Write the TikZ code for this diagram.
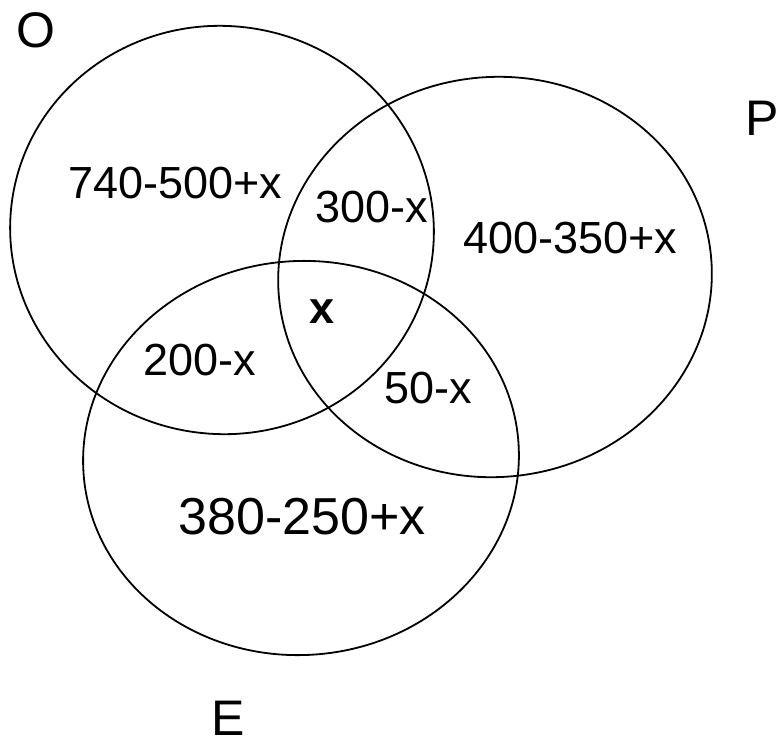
\documentclass[tikz,border=0pt]{standalone}
\usepackage{fontspec}
\setmainfont{Liberation Sans}
\usepackage{tikz}
\usetikzlibrary{positioning}

\begin{document}
\begin{tikzpicture}[x=1pt, y=-1pt,
    ring/.style={draw=black, line width=1.8pt},
    setname/.style={font=\fontsize{50}{56}\selectfont},
    region/.style={font=\fontsize{45}{50}\selectfont}]

    \useasboundingbox (0,0) rectangle (783,755);

    % The three sets
    \draw[ring, rotate around={-8:(222,230)}] (222,230) ellipse [x radius=212, y radius=204];
    \draw[ring, rotate around={6:(495,277)}] (495,277) ellipse [x radius=217, y radius=200];
    \draw[ring, rotate around={4:(301,458)}] (301,458) ellipse [x radius=218, y radius=197];

    % Set names
    \node[setname] (nameO) at (36,30) {O};
    \node[setname] (nameP) at (762,118) {P};
    \node[setname] (nameE) at (228,718) {E};

    % Region counts
    \node[region] (onlyO) at (175,183) {740-500+x};
    \node[region] (OP) at (372,207) {300-x};
    \node[region] (onlyP) at (570,238) {400-350+x};
    \node[region, font=\fontsize{45}{50}\selectfont\bfseries] (OPE) at (322,312) {x};
    \node[region] (OE) at (200,360) {200-x};
    \node[region] (PE) at (428,388) {50-x};
    \node[region, font=\fontsize{52}{58}\selectfont] (onlyE) at (302,517) {380-250+x};

\end{tikzpicture}
\end{document}
